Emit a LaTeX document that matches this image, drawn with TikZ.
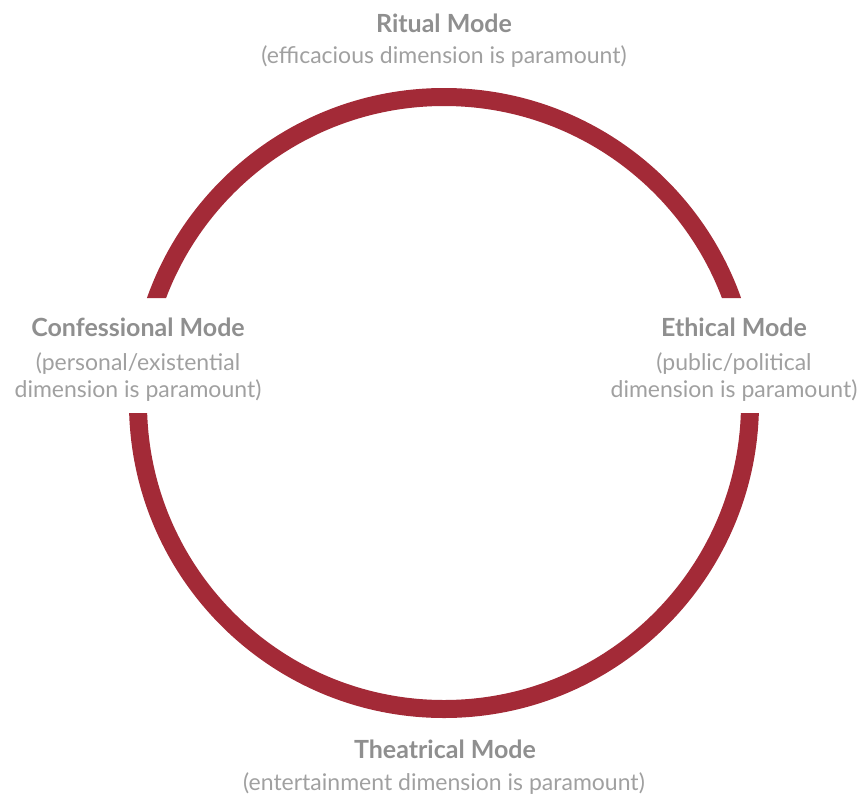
\documentclass[tikz,border=0pt]{standalone}
\usepackage{fontspec}
\setmainfont{Lato}
\definecolor{ringred}{HTML}{A32A37}
\definecolor{titlegrey}{HTML}{8F8F8F}
\definecolor{subgrey}{HTML}{A0A0A0}
\begin{document}
\begin{tikzpicture}[x=1pt,y=-1pt,
  title/.style={font=\fontsize{25}{30}\selectfont\bfseries, text=titlegrey, anchor=base, inner sep=0pt},
  sub/.style={font=\fontsize{23}{28}\selectfont, text=subgrey, anchor=base, inner sep=0pt}]
\useasboundingbox (0,0) rectangle (859,798);
% ring, interrupted on both sides by the horizontal label band
\begin{scope}
  \clip (0,0) rectangle (859,298) (0,413) rectangle (859,798);
  \draw[line width=18pt, draw=ringred] (444,403) circle [radius=306pt];
\end{scope}
% top
\node[title] (ritual) at (444,32) {Ritual Mode};
\node[sub] (ritualsub) at (444,63) {(efficacious dimension is paramount)};
% left
\node[title] (conf) at (138,336) {Confessional Mode};
\node[sub] (confsubA) at (138,370) {(personal/existential};
\node[sub] (confsubB) at (138,397) {dimension is paramount)};
% right
\node[title] (eth) at (734,336) {Ethical Mode};
\node[sub] (ethsubA) at (734,370) {(public/political};
\node[sub] (ethsubB) at (734,397) {dimension is paramount)};
% bottom
\node[title] (theat) at (445,758) {Theatrical Mode};
\node[sub] (theatsub) at (444,790) {(entertainment dimension is paramount)};
\end{tikzpicture}
\end{document}
